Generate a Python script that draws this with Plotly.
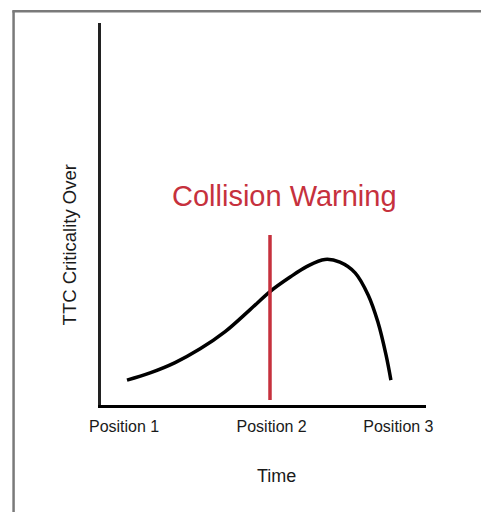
import plotly.graph_objects as go

# ---- data (abstract time / criticality units) ----
curve_time = [0.80, 1.51, 2.28, 3.05, 3.82, 4.58, 5.20, 5.82, 6.34, 6.89, 7.35, 7.82, 8.22, 8.52, 8.77, 8.92]
curve_crit = [0.65, 0.84, 1.11, 1.47, 1.92, 2.49, 2.97, 3.35, 3.63, 3.81, 3.74, 3.46, 2.88, 2.17, 1.31, 0.65]

warning_time = [5.20, 5.20]
warning_level = [0.13, 4.45]

tick_positions = [0.71, 5.25, 9.15]
tick_labels = ["Position 1", "Position 2", "Position 3"]

title_text = "Collision Warning"
x_title = "Time"
y_title = "TTC Criticality Over"

FONT = "Arial, Liberation Sans, sans-serif"
RED = "#c6313d"

fig = go.Figure()
fig.add_trace(go.Scatter(
    x=curve_time, y=curve_crit, mode="lines",
    line=dict(color="black", width=3.5, shape="spline", smoothing=1.0),
    hoverinfo="skip", showlegend=False))
fig.add_trace(go.Scatter(
    x=warning_time, y=warning_level, mode="lines",
    line=dict(color=RED, width=3.5),
    hoverinfo="skip", showlegend=False))

fig.update_layout(
    width=481, height=504,
    margin=dict(l=93, r=63, t=15, b=107),
    paper_bgcolor="white", plot_bgcolor="white",
    font=dict(family=FONT, color="#1a1a1a"),
    xaxis=dict(range=[0, 10], showgrid=False, zeroline=False,
               showline=True, linecolor="black", linewidth=2.5,
               tickvals=tick_positions, ticktext=tick_labels,
               ticks="", tickfont=dict(size=16, family=FONT, color="#1a1a1a"),
               ticklabelstandoff=5, fixedrange=True),
    yaxis=dict(range=[0, 10], showgrid=False, zeroline=False,
               showline=True, linecolor="#222222", linewidth=2.5,
               showticklabels=False, ticks="", fixedrange=True),
    annotations=[
        dict(text=title_text, xref="paper", yref="paper", x=0.566, y=0.547,
             xanchor="center", yanchor="middle", showarrow=False,
             font=dict(size=29, color=RED, family=FONT)),
        dict(text=y_title, xref="paper", yref="paper", x=-0.097, y=0.419,
             xanchor="center", yanchor="middle", showarrow=False, textangle=-90,
             font=dict(size=18.5, color="#1a1a1a", family=FONT)),
        dict(text=x_title, xref="paper", yref="paper", x=0.5415, y=-0.186,
             xanchor="center", yanchor="middle", showarrow=False,
             font=dict(size=18, color="#1a1a1a", family=FONT)),
    ],
    shapes=[
        dict(type="line", xref="paper", yref="paper", x0=-0.269, x1=-0.269,
             y0=1.031, y1=-0.3, line=dict(color="#7a7a7a", width=2.5)),
        dict(type="line", xref="paper", yref="paper", x0=-0.273, x1=1.2,
             y0=1.031, y1=1.031, line=dict(color="#7a7a7a", width=2.5)),
    ],
)

fig.write_html("out.html")
